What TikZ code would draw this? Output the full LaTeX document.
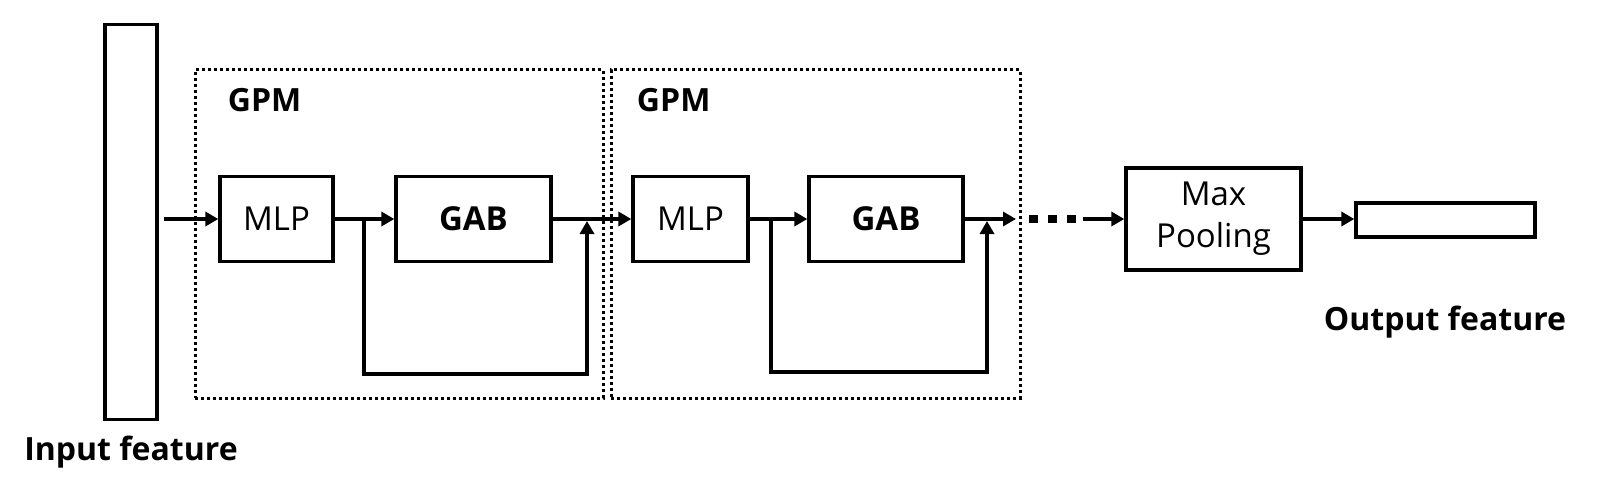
\documentclass[tikz,border=0pt]{standalone}
\usepackage{fontspec}
\setmainfont{Open Sans}
\usetikzlibrary{positioning,arrows.meta}

\begin{document}
\begin{tikzpicture}[
    x=1pt, y=-1pt,
    >={Triangle[length=13pt,width=14pt]},
    line width=3.3pt,
    box/.style={draw, line width=3.3pt, inner sep=0pt, minimum height=85},
    gpmbox/.style={draw, line width=3pt, dash pattern=on 3.2pt off 2.8pt},
    boldtxt/.style={font=\fontsize{32}{38}\selectfont\bfseries},
    plaintxt/.style={font=\fontsize{33}{42}\selectfont}
]

\useasboundingbox (0,0) rectangle (1606,489);

\node[gpmbox, minimum width=408, minimum height=328] (gpma) at (399,234) {};
\node[gpmbox, minimum width=409, minimum height=328] (gpmb) at (815.5,234) {};

\node[boldtxt, anchor=base west] (gpmla) at (223,112) {GPM};
\node[boldtxt, anchor=base west] (gpmlb) at (632,112) {GPM};

\node[box, minimum width=52, minimum height=395] (inbar) at (131,222) {};
\node[boldtxt, anchor=base] (inlbl) at (131,460) {Input feature};

\node[box, plaintxt, minimum width=113] (mlpa) at (276.5,219) {MLP};
\node[box, boldtxt, font=\fontsize{33}{40}\selectfont\bfseries, minimum width=155] (gaba) at (473.5,219) {GAB};

\node[box, plaintxt, minimum width=115] (mlpb) at (690.5,219) {MLP};
\node[box, boldtxt, font=\fontsize{33}{40}\selectfont\bfseries, minimum width=154] (gabb) at (886,219) {GAB};

\node[box, plaintxt, align=center, minimum width=175, minimum height=102] (pool) at (1213.5,219) {Max\\Pooling};

\node[box, minimum width=179, minimum height=34] (outbar) at (1445.5,220) {};
\node[boldtxt, anchor=base] (outlbl) at (1445,330) {Output feature};

\coordinate (spa) at (364,219);
\coordinate (bota) at (587,374);
\coordinate (jna) at (587,221);

\coordinate (spb) at (771,219);
\coordinate (botb) at (987,372);
\coordinate (jnb) at (987,221);

\coordinate (gout) at (1016,219);
\coordinate (dots) at (1029,219);
\coordinate (dote) at (1083,219);

\draw[->, shorten <=5pt] (inbar.east |- mlpa.west) -- (mlpa.west);

\draw[->] (mlpa.east) -- (gaba.west);
\draw[->] (spa) |- (bota) -- (jna);
\draw[->] (gaba.east) -- (mlpb.west);

\draw[->] (mlpb.east) -- (gabb.west);
\draw[->] (spb) |- (botb) -- (jnb);
\draw[->] (gabb.east) -- (gout);

\draw[line width=8pt, dash pattern=on 9pt off 10pt] (dots) -- (dote);
\draw[->] (dote) -- (pool.west);

\draw[->] (pool.east) -- (pool.east -| outbar.west);

\end{tikzpicture}
\end{document}
